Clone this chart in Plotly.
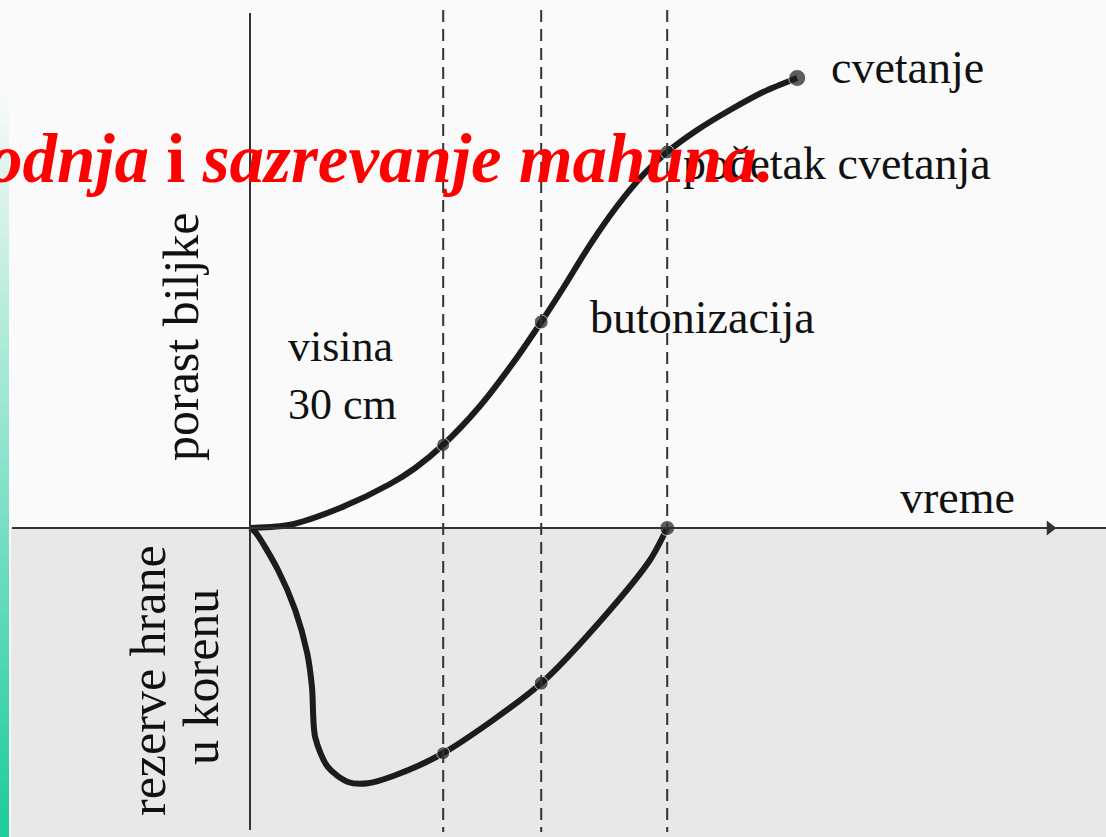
#!/usr/bin/env python3
"""Rast biljke i rezerve hrane u korenu tokom vremena (shema)."""

import plotly.graph_objects as go

W, H = 1106, 837
PX = 40.0          # pixels per data unit, both axes
X0_PX, Y0_PX = 250, 528   # where the axes cross

# faze (vertikalne isprekidane linije)
PHASE_T = [4.83, 7.28, 10.43]

# porast biljke (gornja kriva)
GROWTH_T = [0.0, 1.0, 2.25, 3.5, 4.13, 4.83, 5.75, 6.58, 7.28, 7.83, 8.5, 9.18, 9.83,
            10.43, 11.18, 12.0, 12.83, 13.68]
GROWTH_Y = [0.0, 0.08, 0.5, 1.1, 1.5, 2.08, 3.05, 4.13, 5.15, 6.0, 7.08, 8.05, 8.83,
            9.4, 9.95, 10.45, 10.9, 11.25]
GROWTH_DOTS_T = [4.83, 7.28, 10.43, 13.68]
GROWTH_DOTS_Y = [2.08, 5.15, 9.4, 11.25]

# rezerve hrane u korenu (donja kriva)
RESERVE_T = [0.0, 0.13, 0.7, 1.13, 1.43, 1.55, 1.63, 1.95, 2.45, 2.95, 3.63,
             4.83, 7.28, 8.93, 10.0, 10.43]
RESERVE_Y = [0.0, -0.1, -1.05, -2.05, -3.13, -3.98, -5.23, -5.98, -6.35, -6.38, -6.18,
             -5.63, -3.88, -2.13, -0.8, 0.0]
RESERVE_DOTS_T = [4.83, 7.28, 10.43]
RESERVE_DOTS_Y = [-5.63, -3.88, 0.0]

INK = "#1c1c1c"
SERIF = "Times New Roman, Liberation Serif, Tinos, serif"


def dx(px):
    return (px - X0_PX) / PX


def dy(px):
    return (Y0_PX - px) / PX


fig = go.Figure()

fig.add_trace(go.Scatter(
    x=GROWTH_T, y=GROWTH_Y, mode="lines",
    line=dict(color=INK, width=6, shape="spline", smoothing=0.8),
    hoverinfo="skip",
))
fig.add_trace(go.Scatter(
    x=RESERVE_T, y=RESERVE_Y, mode="lines",
    line=dict(color=INK, width=6, shape="spline", smoothing=0.8),
    hoverinfo="skip",
))
fig.add_trace(go.Scatter(
    x=GROWTH_DOTS_T + RESERVE_DOTS_T, y=GROWTH_DOTS_Y + RESERVE_DOTS_Y,
    mode="markers", marker=dict(color=INK, size=[13, 14, 14, 17, 13, 14, 15]),
    hoverinfo="skip",
))
# strelica na osi vremena
fig.add_trace(go.Scatter(
    x=[dx(1050)], y=[0], mode="markers",
    marker=dict(symbol="triangle-right", color="#333", size=13),
    hoverinfo="skip",
))

shapes = []
# zelena traka levo (gradijent)
n = 60
for i in range(n):
    f = i / (n - 1)
    g = max(0.0, (f - 0.1) / 0.9)
    r = int(250 + (30 - 250) * g)
    gg = int(250 + (205 - 250) * g)
    b = int(250 + (155 - 250) * g)
    shapes.append(dict(
        type="rect", xref="paper", yref="paper", layer="below",
        x0=0, x1=9 / W, y0=1 - (i + 1) / n, y1=1 - i / n + 0.001,
        fillcolor=f"rgb({r},{gg},{b})", line=dict(width=0),
    ))
# siva donja polovina
shapes.append(dict(
    type="rect", xref="x", yref="y", layer="below",
    x0=dx(11), x1=dx(W + 5), y0=dy(H + 5), y1=0,
    fillcolor="#e8e8e8", line=dict(width=0),
))
# ose
shapes.append(dict(type="line", xref="x", yref="y", x0=0, x1=0, y0=dy(13), y1=dy(830),
                   line=dict(color="#333", width=2)))
shapes.append(dict(type="line", xref="x", yref="y", x0=dx(12), x1=dx(W + 5), y0=0, y1=0,
                   line=dict(color="#333", width=2)))
# isprekidane linije faza
for t in PHASE_T:
    shapes.append(dict(type="line", xref="x", yref="y", x0=t, x1=t, y0=dy(10), y1=dy(832),
                       line=dict(color="#333", width=2, dash="12px,7px")))

ann = []


def label(text, px, py, size, angle=0, xanchor="center", color="#111"):
    ann.append(dict(
        text=text, xref="paper", yref="paper", x=px / W, y=1 - py / H,
        xanchor=xanchor, yanchor="middle",
        showarrow=False, textangle=angle,
        font=dict(family=SERIF, size=size, color=color),
    ))


label("cvetanje", 829, 67, 46, xanchor="left")
label("početak cvetanja", 681, 163, 46, xanchor="left")
label("butonizacija", 588, 317, 46, xanchor="left")
label("visina", 286, 346, 44, xanchor="left")
label("30 cm", 286, 404, 44, xanchor="left")
label("vreme", 898, 497, 46, xanchor="left")
label("porast biljke", 181, 337, 50, angle=-90)
label("rezerve hrane", 148, 681, 50, angle=-90)
label("u korenu", 201, 677, 50, angle=-90)
label("<b><i>odnja</i> i <i>sazrevanje mahuna.</i></b>", -14, 159, 69,
      xanchor="left", color="#ff0000")

fig.update_layout(
    width=W, height=H,
    margin=dict(l=0, r=0, t=0, b=0),
    paper_bgcolor="#fafafa", plot_bgcolor="#fafafa",
    showlegend=False,
    shapes=shapes, annotations=ann,
    xaxis=dict(range=[dx(0), dx(W)], visible=False, fixedrange=True),
    yaxis=dict(range=[dy(H), dy(0)], visible=False, fixedrange=True),
)

fig.write_html("out.html", config={"displayModeBar": False},
               post_script="document.body.style.margin='0';document.body.style.overflow='hidden';")
